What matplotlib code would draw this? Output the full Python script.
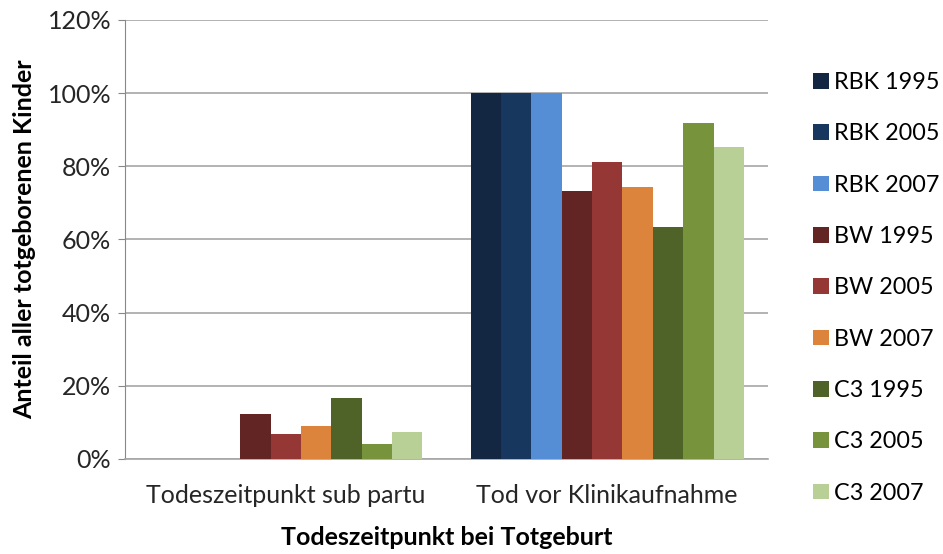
import matplotlib
matplotlib.use("Agg")
import matplotlib.pyplot as plt
import numpy as np
from matplotlib.ticker import FuncFormatter

categories = ["Todeszeitpunkt sub partu", "Tod vor Klinikaufnahme"]
series_names = ["RBK 1995", "RBK 2005", "RBK 2007", "BW 1995", "BW 2005",
                "BW 2007", "C3 1995", "C3 2005", "C3 2007"]
rbk_1995 = [0, 100]
rbk_2005 = [0, 100]
rbk_2007 = [0, 100]
bw_1995 = [12.4, 73.2]
bw_2005 = [6.7, 81.1]
bw_2007 = [8.9, 74.3]
c3_1995 = [16.8, 63.3]
c3_2005 = [4.2, 91.8]
c3_2007 = [7.3, 85.2]
series_values = [rbk_1995, rbk_2005, rbk_2007, bw_1995, bw_2005, bw_2007,
                 c3_1995, c3_2005, c3_2007]
colors = ["#132742", "#17375e", "#558ed5", "#632523", "#953735", "#dd843c",
          "#4f6228", "#77933c", "#b8cf96"]
y_ticks = [0, 20, 40, 60, 80, 100, 120]

plt.rcParams['font.family'] = ['Lato', 'DejaVu Sans']

fig = plt.figure(figsize=(9.43, 5.54), dpi=100)
ax = fig.add_axes([0.1326, 0.1715, 0.8144 - 0.1326, 0.964 - 0.1715])

n = len(series_names)
group_width = 0.85
bw = group_width / n
x = np.arange(len(categories))
for i, (name, vals, c) in enumerate(zip(series_names, series_values, colors)):
    offs = -group_width / 2 + bw * (i + 0.5)
    ax.bar(x + offs, vals, width=bw, color=c, label=name, zorder=3,
           edgecolor='none')

ax.set_xlim(-0.5, len(categories) - 0.5)
ax.set_ylim(0, 120)
ax.set_yticks(y_ticks)
ax.yaxis.set_major_formatter(FuncFormatter(lambda v, p: f"{int(v)}%"))
ax.grid(axis='y', color='#a6a6a6', linewidth=1.2, zorder=0)
ax.set_xticks(x)
ax.set_xticklabels(categories, fontsize=18, color='#262626')
ax.tick_params(axis='x', length=0, pad=18)
ax.tick_params(axis='y', length=5, color='#888888', labelsize=18,
               labelcolor='#262626', pad=5)

for s in ['top', 'right']:
    ax.spines[s].set_visible(False)
ax.spines['left'].set_color('#888888')
ax.spines['bottom'].set_color('#a6a6a6')
ax.spines['bottom'].set_linewidth(1.2)

ax.set_xlabel("Todeszeitpunkt bei Totgeburt", fontsize=18, fontweight='bold',
              labelpad=14)
ax.set_ylabel("Anteil aller totgeborenen Kinder", fontsize=18,
              fontweight='bold', labelpad=8)

leg = ax.legend(loc='center left', bbox_to_anchor=(1.038, 0.39), frameon=False,
                fontsize=16.8, handlelength=0.65, handleheight=0.65,
                handletextpad=0.25, labelspacing=1.3)

fig.savefig("out.png", dpi=100)
